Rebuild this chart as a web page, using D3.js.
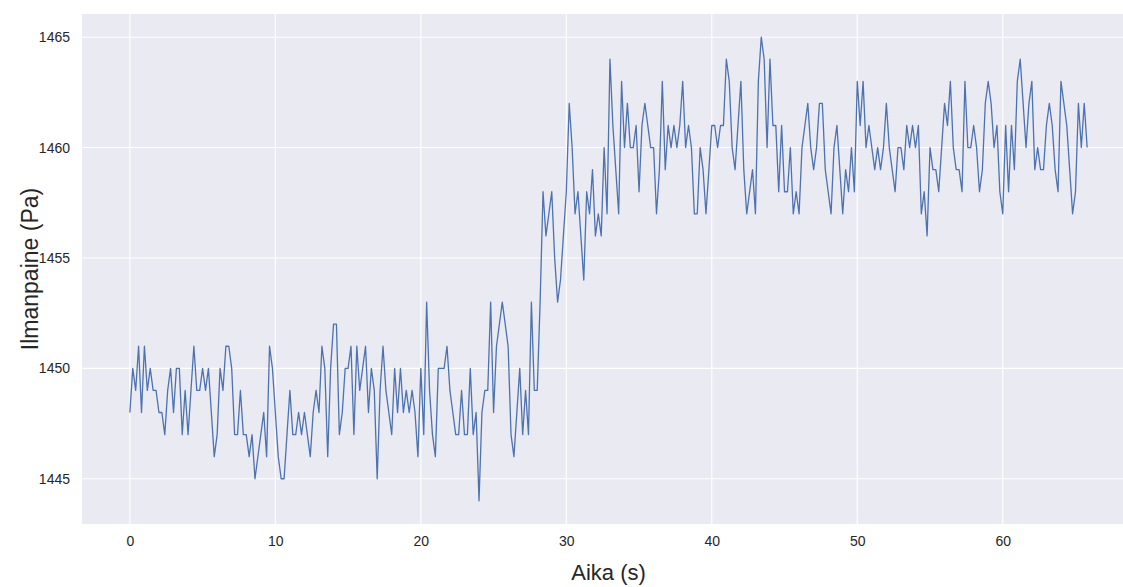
<!DOCTYPE html>
<html>
<head>
<meta charset="utf-8">
<script src="https://cdn.jsdelivr.net/npm/d3@7"></script>
<style>
  body { margin: 0; background: #fff; }
  svg { display: block; font-family: "Liberation Sans", Arial, sans-serif; }
</style>
</head>
<body>
<script>
// pressure readings (Pa), one every sampleStep seconds
const sampleStep = 0.2;
const pressure = [
  1448,1450,1449,1451,1448,1451,1449,1450,1449,1449,1448,1448,1447,1449,1450,1448,1450,1450,1447,1449,
  1447,1449,1451,1449,1449,1450,1449,1450,
  1448,1446,1447,1450,1449,1451,1451,1450,1447,1447,1449,1447,1447,1446,1447,1445,1446,1447,1448,1446,
  1451,1450,1448,1446,1445,1445,1447,1449,1447,
  1447,1448,1447,1448,1447,1446,1448,1449,1448,1451,1450,1446,1450,1452,1452,1447,1448,1450,1450,1451,
  1447,1451,1449,1450,1451,1448,1450,1449,1445,
  1449,1451,1449,1448,1447,1450,1448,1450,1448,1449,1448,1449,1448,1446,1450,1447,1453,1449,1447,1446,
  1450,1450,1450,1451,1449,1448,1447,1447,1449,1447,
  1447,1450,1447,1448,1444,1448,1449,1449,1453,1448,1451,1452,1453,1452,1451,1447,1446,1448,1450,1447,
  1449,1447,1453,1449,1449,
  1453,1458,1456,1457,1458,1455,1453,1454,1456,1458,1462,1460,1457,1458,1456,1454,1458,1457,1459,1456,1457,
  1456,1460,1457,1464,1461,1459,1457,1463,1460,1462,1460,1460,1461,1458,1461,1462,1461,1460,1460,1457,
  1459,1463,1459,1461,1460,1461,1460,
  1461,1463,1460,1461,1460,1457,1457,1460,1459,1457,1459,1461,1461,1460,1461,1461,1464,1463,1460,1459,
  1461,1463,1459,1457,1458,1459,1457,1463,
  1465,1464,1460,1464,1461,1461,1458,1461,1458,1458,1460,1457,1458,1457,1460,1461,1462,1460,1459,1460,
  1462,1462,1459,1458,1457,1460,1461,
  1459,1457,1459,1458,1460,1458,1463,1461,1463,1460,1461,1460,1459,1460,1459,1460,1462,1460,1459,1458,
  1460,1460,1459,1461,1460,1461,1460,
  1461,1457,1458,1456,1460,1459,1459,1458,1460,1462,1461,1463,1460,1459,1459,1458,1463,1460,1460,1461,
  1460,1458,1459,1462,1463,1462,1460,1461,
  1458,1457,1461,1458,1461,1459,1463,1464,1462,1460,1462,1463,1459,1460,1459,1459,1461,1462,1461,1459,
  1458,1463,1462,1461,1459,1457,1458,1462,1460,1462,1460
];
const xTicks = [0, 10, 20, 30, 40, 50, 60];
const yTicks = [1445, 1450, 1455, 1460, 1465];
const xLabel = "Aika (s)";
const yLabel = "Ilmanpaine (Pa)";

const data = pressure.map((v, i) => ({t: i * sampleStep, v: v}));

const svgWidth = 1123, svgHeight = 587;
const margin = {top: 14, left: 82};
const width = 1053, height = 510;

const svg = d3.select("body").append("svg")
  .attr("width", svgWidth)
  .attr("height", svgHeight);

// matplotlib style 5% padding around the data
const tMax = d3.max(data, d => d.t);
const padX = tMax * 0.05;
const vMin = d3.min(pressure), vMax = d3.max(pressure);
const padY = (vMax - vMin) * 0.05;

const x = d3.scaleLinear().domain([-padX, tMax + padX]).range([0, width]);
const y = d3.scaleLinear().domain([vMin - padY, vMax + padY]).range([height, 0]);

const g = svg.append("g")
  .attr("transform", "translate(" + margin.left + "," + margin.top + ")");

g.append("rect")
  .attr("width", width)
  .attr("height", height)
  .attr("fill", "#eaeaf2");

// grid
g.append("g").selectAll("line").data(xTicks).join("line")
  .attr("x1", d => x(d)).attr("x2", d => x(d))
  .attr("y1", 0).attr("y2", height)
  .attr("stroke", "#fff").attr("stroke-width", 1.1);
g.append("g").selectAll("line").data(yTicks).join("line")
  .attr("x1", 0).attr("x2", width)
  .attr("y1", d => y(d)).attr("y2", d => y(d))
  .attr("stroke", "#fff").attr("stroke-width", 1.1);

// axes, no domain line and no tick marks (darkgrid look)
const xAxis = g.append("g")
  .attr("transform", "translate(0," + height + ")")
  .call(d3.axisBottom(x).tickValues(xTicks).tickSize(0).tickPadding(12));
const yAxis = g.append("g")
  .call(d3.axisLeft(y).tickValues(yTicks).tickSize(0).tickPadding(12).tickFormat(d3.format("d")));
[xAxis, yAxis].forEach(a => {
  a.select(".domain").remove();
  a.selectAll("text")
    .attr("fill", "#262626")
    .style("font-size", "14px")
    .style("font-family", "'Liberation Sans', Arial, sans-serif");
});

// series
const line = d3.line().x(d => x(d.t)).y(d => y(d.v));
g.append("path")
  .datum(data)
  .attr("fill", "none")
  .attr("stroke", "#4c72b0")
  .attr("stroke-width", 1.3)
  .attr("stroke-linejoin", "round")
  .attr("d", line);

// axis titles
svg.append("text")
  .attr("x", margin.left + width / 2)
  .attr("y", 580)
  .attr("text-anchor", "middle")
  .attr("fill", "#262626")
  .style("font-size", "22px")
  .text(xLabel);

svg.append("text")
  .attr("transform", "translate(38," + (margin.top + height / 2) + ") rotate(-90)")
  .attr("text-anchor", "middle")
  .attr("fill", "#262626")
  .style("font-size", "23px")
  .text(yLabel);
</script>
</body>
</html>
